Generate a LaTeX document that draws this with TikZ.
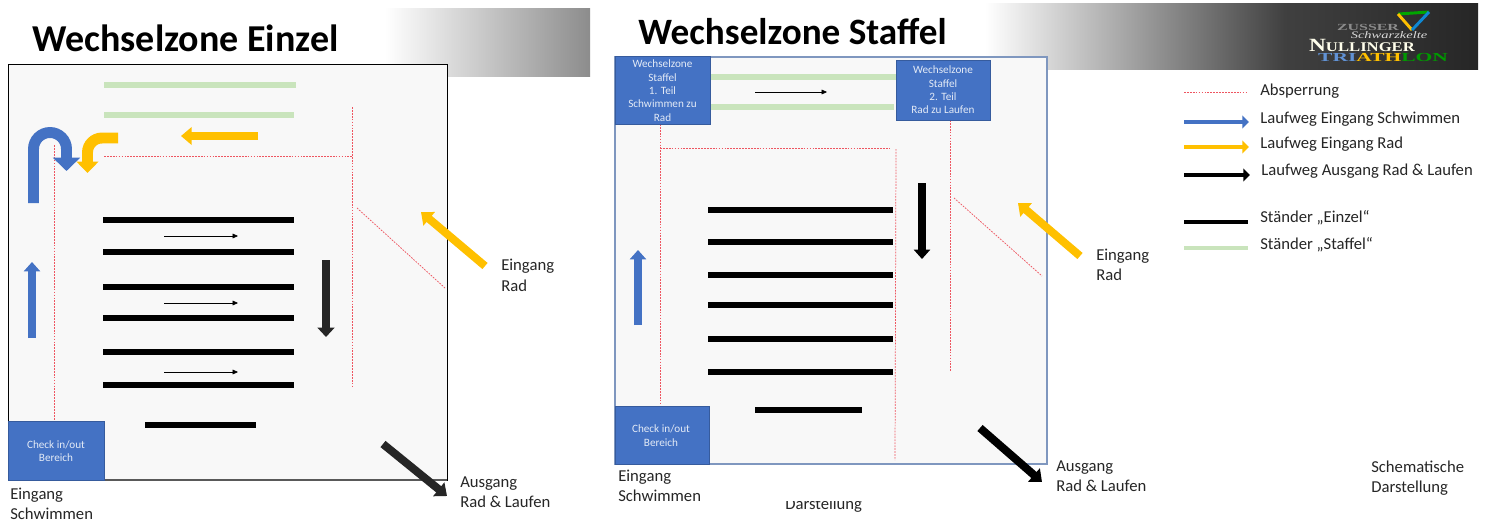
\documentclass[tikz,border=0pt]{standalone}
\usepackage{graphicx}
\usepackage{fontspec}
\setmainfont{Carlito}
\newfontfamily\logofont{Liberation Serif}
\usetikzlibrary{arrows.meta,shapes.geometric}
\definecolor{bluefill}{HTML}{4472C4}
\definecolor{goldfill}{HTML}{FFC000}
\definecolor{greenbar}{HTML}{C9E4BC}
\definecolor{redline}{HTML}{EE5560}
\definecolor{boxfill}{HTML}{F8F8F8}
\definecolor{darkarrow}{HTML}{262626}
\definecolor{panelblue}{HTML}{7F97BF}
\tikzset{
  x=0.75pt,y=-0.75pt,
  fatarrow/.style={line width=6pt,-{Triangle[length=8pt,width=13pt]}},
  midarrow/.style={line width=6pt,-{Triangle[length=7pt,width=12pt]}},
  legarrow/.style={line width=3.4pt,-{Triangle[length=5pt,width=9.5pt]}},
  rack/.style={line width=4.4pt,black},
  greenrack/.style={line width=4.6pt,greenbar},
  barrier/.style={redline,line width=0.55pt,dash pattern=on 1.3pt off 0.9pt},
  thinarrow/.style={line width=0.45pt,-{Triangle[length=4pt,width=3.5pt]}},
  bluebox/.style={fill=bluefill,draw=bluefill!80!black,line width=0.4pt},
  boxtext/.style={text=white!85!bluefill,font=\fontsize{8.4pt}{10pt}\selectfont,align=center,inner sep=0pt},
  label/.style={anchor=west,inner sep=0pt,align=left,text=black!85,font=\fontsize{12.5pt}{15.3pt}\selectfont},
  titleA/.style={anchor=west,inner sep=0pt,font=\fontsize{28.5pt}{30pt}\selectfont\bfseries},
  titleB/.style={anchor=west,inner sep=0pt,font=\fontsize{27.9pt}{30pt}\selectfont\bfseries},
}
\begin{document}
\begin{tikzpicture}
\useasboundingbox (0,0) rectangle (1488,522);
\fill[white] (0,0) rectangle (1488,522);
% header bands
\shade[left color=white,right color=black!45] (385,8) rectangle (590,76);
\shade[left color=white,right color=black!75] (985,3) rectangle (1285,69);
\shade[left color=black!75,right color=black!85] (1285,3) rectangle (1478,69);
% left panel
\draw[black,line width=0.6pt,fill=boxfill] (8,64) rectangle (447,480);
\draw[black!65,line width=1pt] (8,480) -- (447,480);
\node[titleA] (t1) at (32,38) {Wechselzone Einzel};
\draw[greenrack] (104,85) -- (296,85);
\draw[greenrack] (104,115) -- (294,115);
\foreach \y in {220,252,287,318,352,385} \draw[rack] (103,\y) -- (294,\y);
\draw[rack] (145,425) -- (256,425);
\foreach \y in {236,303,372} \draw[thinarrow] (164,\y) -- (238,\y);
\draw[barrier] (352,107) -- (352,387);
\draw[barrier] (104,156) -- (352,156);
\draw[barrier] (54,145) -- (54,420);
\draw[barrier] (357,208) -- (445,288);
\draw[bluefill,line width=8.2pt,-{Triangle[length=10pt,width=20pt]}] (33.5,203) -- (33.5,149) .. controls (33.5,139.9) and (40.9,132.5) .. (50,132.5) .. controls (59.1,132.5) and (66.5,139.9) .. (66.5,149) -- (66.5,171);
\draw[goldfill,line width=8.2pt,-{Triangle[length=8.5pt,width=16pt]}] (118,138) -- (102,138) .. controls (94,138) and (87.5,144.5) .. (87.5,152.5) -- (87.5,173);
\draw[bluefill,midarrow] (32,338) -- (32,262);
\draw[darkarrow,line width=6.6pt,-{Triangle[length=7pt,width=12.5pt]}] (326,260) -- (326,337);
\draw[goldfill,fatarrow,line width=5.6pt] (258,136) -- (181,136);
\draw[goldfill,fatarrow] (485,266) -- (421,212);
\draw[darkarrow,fatarrow] (383,444) -- (447,496);
\node[bluebox,minimum width=72pt,minimum height=44.25pt,inner sep=0pt] (c1) at (56,450.5) {};
\node[boxtext] (c1t) at (56,451) {Check in/out\\Bereich};
\node[label] (l1) at (501,275.5) {Eingang\\Rad};
\node[label] (l2) at (460,492) {Ausgang\\Rad \& Laufen};
\node[label] (l3) at (10,504) {Eingang\\Schwimmen};
% right panel
\draw[panelblue,line width=0.8pt,fill=boxfill] (615,57) rectangle (1047,464);
\node[titleB] (t2) at (638,32) {Wechselzone Staffel};
\draw[greenrack] (710,77) -- (896,77);
\draw[greenrack] (710,107) -- (894,107);
\foreach \y in {210,242,275,305,339,372} \draw[rack] (708,\y) -- (893,\y);
\draw[rack] (755,410) -- (862,410);
\draw[thinarrow] (755,92) -- (827,92);
\draw[barrier] (660,124) -- (660,403);
\draw[barrier] (660,148) -- (890,148);
\draw[barrier] (896,149) -- (895,460);
\draw[barrier] (950,120) -- (950,372);
\draw[barrier] (954,198) -- (1042,276);
\draw[black,line width=5.6pt,-{Triangle[length=7pt,width=12pt]}] (922,183) -- (922,259);
\draw[bluefill,midarrow] (638,325) -- (638,250);
\draw[goldfill,fatarrow] (1080,256) -- (1018,203);
\draw[black,fatarrow] (980,428) -- (1042,482);
\node[bluebox,minimum width=71.25pt,minimum height=51pt,inner sep=0pt] (w1) at (662.5,90) {};
\node[boxtext] (w1t) at (662.5,90.5) {Wechselzone\\Staffel\\1. Teil\\Schwimmen zu\\Rad};
\node[bluebox,minimum width=70.5pt,minimum height=45pt,inner sep=0pt] (w2) at (943,90) {};
\node[boxtext] (w2t) at (943,90) {Wechselzone\\Staffel\\2. Teil\\Rad zu Laufen};
\node[bluebox,minimum width=70.5pt,minimum height=43.5pt,inner sep=0pt] (c2) at (662,435) {};
\node[boxtext] (c2t) at (661,435.5) {Check in/out\\Bereich};
\node[label] (r1) at (1096,265) {Eingang\\Rad};
\node[label] (r2) at (1056,476) {Ausgang\\Rad \& Laufen};
\node[label] (r3) at (618,486) {Eingang\\Schwimmen};
\node[label] (r4) at (1371,478) {Schematische\\Darstellung};
% clipped word under the panel
\node[label] (r5) at (785,505) {Darstellung};
\fill[white] (700,466) rectangle (960,501);
% legend
\draw[barrier] (1184,92) -- (1248,92);
\draw[bluefill,legarrow] (1184,122) -- (1249,122);
\draw[goldfill,legarrow] (1184,147) -- (1249,147);
\draw[black,legarrow] (1184,175) -- (1250,175);
\draw[black,line width=3.4pt] (1184,222) -- (1248,222);
\draw[greenbar,line width=3.4pt] (1184,248) -- (1248,248);
\node[label] (a) at (1260,91) {Absperrung};
\node[label] (b) at (1260,119) {Laufweg Eingang Schwimmen};
\node[label] (d) at (1260,144) {Laufweg Eingang Rad};
\node[label] (e) at (1261,171) {Laufweg Ausgang Rad \& Laufen};
\node[label] (f) at (1260,218) {Ständer „Einzel“};
\node[label] (g) at (1260,245) {Ständer „Staffel“};
% logo
\node[inner sep=0pt,text=black!45,font=\logofont\bfseries\fontsize{7pt}{7pt}\selectfont] (lg1) at (1368,27) {\scalebox{1.7}[1]{ZUSSER}};
\node[inner sep=0pt,text=white!85!black,font=\logofont\itshape\fontsize{7.5pt}{8pt}\selectfont] (lg2) at (1389,35) {\scalebox{1.45}[1]{Schwarzkelte}};
\node[inner sep=0pt,text=white!92!yellow,font=\logofont\bfseries\fontsize{10pt}{12pt}\selectfont] (lg3) at (1362,45) {\scalebox{1.25}[1]{{\fontsize{14pt}{14pt}\selectfont N}ULLINGER}};
\node[inner sep=0pt,font=\logofont\bfseries\fontsize{9.2pt}{10pt}\selectfont] (lg4) at (1383,57) {\scalebox{1.75}[1]{\textcolor{cyan!50!blue!65!white}{TRI}\textcolor{goldfill}{ATH}\textcolor{green!60!black}{LON}}};
\draw[line width=2.2pt,green!65!black] (1398,14) -- (1429,12);
\draw[line width=2.2pt,goldfill] (1398,14) -- (1412,30);
\draw[line width=2.2pt,cyan!70!blue] (1429,12) -- (1412,30);
\end{tikzpicture}
\end{document}
